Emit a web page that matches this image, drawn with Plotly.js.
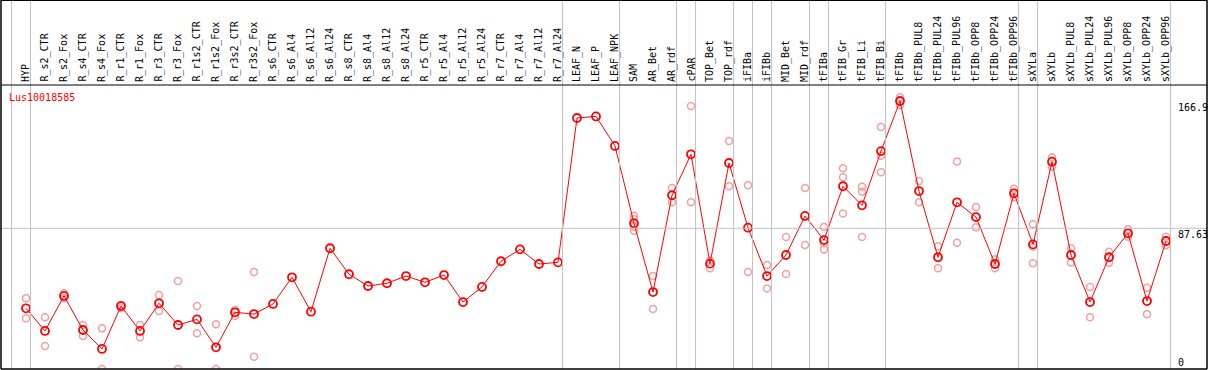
<!DOCTYPE html>
<html><head><meta charset="utf-8">
<script src="https://cdn.plot.ly/plotly-3.0.1.min.js"></script>
<style>html,body{margin:0;padding:0;background:#fff}#chart{width:1209px;height:370px}</style>
</head><body><div id="chart"></div>
<script>
const seriesName = 'Lus10018585';
const categories = ['HYP','R_s2_CTR','R_s2_Fox','R_s4_CTR','R_s4_Fox','R_r1_CTR','R_r1_Fox','R_r3_CTR','R_r3_Fox','R_r1s2_CTR','R_r1s2_Fox','R_r3s2_CTR','R_r3s2_Fox','R_s6_CTR','R_s6_Al4','R_s6_Al12','R_s6_Al24','R_s8_CTR','R_s8_Al4','R_s8_Al12','R_s8_Al24','R_r5_CTR','R_r5_Al4','R_r5_Al12','R_r5_Al24','R_r7_CTR','R_r7_Al4','R_r7_Al12','R_r7_Al24','LEAF_N','LEAF_P','LEAF_NPK','SAM','AR_Bet','AR_rdf','cPAR','TOP_Bet','TOP_rdf','iFIBa','iFIBb','MID_Bet','MID_rdf','tFIBa','tFIB_Gr','tFIB_Li','tFIB_Bi','tFIBb','tFIBb_PUL8','tFIBb_PUL24','tFIBb_PUL96','tFIBb_OPP8','tFIBb_OPP24','tFIBb_OPP96','sXYLa','sXYLb','sXYLb_PUL8','sXYLb_PUL24','sXYLb_PUL96','sXYLb_OPP8','sXYLb_OPP24','sXYLb_OPP96'];
const meanValues = [37.8,23.7,45.5,24.3,12.5,39.2,23.7,40.9,27.4,30.9,13.5,35.3,34.2,40.5,57.1,35.7,75.2,59.0,51.7,53.4,57.9,54.0,58.5,41.7,51.1,67.1,74.5,65.4,66.4,156.3,157.3,138.9,90.7,47.9,108.2,133.7,65.6,128.3,88.0,57.9,71.0,95.3,80.3,113.8,101.9,135.7,166.9,110.8,69.6,103.8,94.6,65.4,109.4,77.6,129.1,71.0,41.7,69.6,84.5,42.3,79.7];
const repCategories = ['HYP','HYP','R_s2_CTR','R_s2_CTR','R_s2_Fox','R_s2_Fox','R_s4_CTR','R_s4_CTR','R_s4_Fox','R_s4_Fox','R_r1_CTR','R_r1_CTR','R_r1_Fox','R_r1_Fox','R_r3_CTR','R_r3_CTR','R_r3_Fox','R_r3_Fox','R_r1s2_CTR','R_r1s2_CTR','R_r1s2_Fox','R_r1s2_Fox','R_r3s2_CTR','R_r3s2_CTR','R_r3s2_Fox','R_r3s2_Fox',
  'SAM','SAM','SAM','SAM','AR_Bet','AR_Bet','AR_rdf','AR_rdf','cPAR','cPAR','TOP_Bet','TOP_Bet','TOP_rdf','TOP_rdf','iFIBa','iFIBa','iFIBb','iFIBb','MID_Bet','MID_Bet','MID_rdf','MID_rdf','tFIBa','tFIBa','tFIBa','tFIB_Gr','tFIB_Gr','tFIB_Gr','tFIB_Li','tFIB_Li','tFIB_Li','tFIB_Bi','tFIB_Bi','tFIB_Bi','tFIBb','tFIBb',
  'tFIBb_PUL8','tFIBb_PUL8','tFIBb_PUL24','tFIBb_PUL24','tFIBb_PUL96','tFIBb_PUL96','tFIBb_OPP8','tFIBb_OPP8','tFIBb_OPP24','tFIBb_OPP24','tFIBb_OPP96','tFIBb_OPP96','sXYLa','sXYLa','sXYLa','sXYLb','sXYLb','sXYLb_PUL8','sXYLb_PUL8','sXYLb_PUL24','sXYLb_PUL24','sXYLb_PUL96','sXYLb_PUL96','sXYLb_OPP8','sXYLb_OPP8','sXYLb_OPP24','sXYLb_OPP24','sXYLb_OPP96','sXYLb_OPP96'];
const repValues = [44.0,31.6,32.2,14.3,47.1,44.0,27.4,20.5,25.3,0,39.9,38.0,27.4,19.7,46.1,36.1,54.8,0,39.2,22.2,27.8,0,36.7,33.0,60.4,7.7,
  95.3,93.2,88.6,86.1,57.9,37.4,112.7,103.8,163.8,103.8,67.4,62.7,142.0,113.8,114.4,60.4,64.8,50.2,82.2,59.2,112.7,77.2,88.4,78.3,74.5,125.0,119.4,96.9,113.5,110.4,82.2,150.7,132.8,122.5,169.2,164.4,
  117.1,103.8,76.4,62.7,129.3,78.6,100.9,88.2,68.3,62.7,112.3,106.9,90.1,76.2,65.8,131.8,126.0,75.2,66.4,51.1,32.2,73.0,66.2,87.0,82.4,50.6,34.1,82.4,77.0];
const groupSizes = [1,28,3,3,1,2,1,1,2,1,3,7,1,7];
const yTickValues = [166.9, 87.63, 0];

const W=1209, H=370, L=1, R=2, T=86, B=1;
const plotW = W-L-R, plotH = H-T-B;
const X0 = 26, STEP = 19, PXPERUNIT = 268/166.9;
const py = p => (H-B-p)/plotH;
const px = p => (p-L)/plotW;
const FONT = 'DejaVu Sans Mono, Liberation Mono, monospace';
const GRID = '#c0c0c0';

const xIdx = categories.map((c,i)=>i);
const repX = repCategories.map(c=>categories.indexOf(c));

const shapes = [];
// group separators
let b = -1;
const bounds = [b];
groupSizes.forEach(s=>{ b += s; bounds.push(b); });
bounds.forEach(k=>shapes.push({type:'line', xref:'x', yref:'paper', x0:k+0.24, x1:k+0.24, y0:0, y1:py(0), line:{color:GRID, width:1}}));
// horizontal mid grid
shapes.push({type:'line', xref:'paper', yref:'y', x0:0, x1:1, y0:yTickValues[1], y1:yTickValues[1], line:{color:GRID, width:1}});
// borders
shapes.push({type:'line', xref:'paper', yref:'paper', x0:0, x1:1, y0:py(0.5), y1:py(0.5), line:{color:'#000', width:1}});
shapes.push({type:'line', xref:'paper', yref:'paper', x0:0, x1:1, y0:py(85), y1:py(85), line:{color:'#000', width:1}});
shapes.push({type:'line', xref:'paper', yref:'paper', x0:0, x1:1, y0:py(369), y1:py(369), line:{color:'#000', width:1.5}});
shapes.push({type:'line', xref:'paper', yref:'paper', x0:0, x1:0, y0:0, y1:py(0), line:{color:'#000', width:1.5}});
shapes.push({type:'line', xref:'paper', yref:'paper', x0:1, x1:1, y0:0, y1:py(0), line:{color:'#000', width:1.5}});

const annotations = [];
categories.forEach((c,i)=>annotations.push({x:i, xref:'x', y:py(83), yref:'paper', xanchor:'center', yanchor:'bottom', text:c, textangle:-90, showarrow:false, borderpad:0, font:{family:FONT, size:10, color:'#000'}}));
annotations.push({x:px(8), xref:'paper', y:py(97), yref:'paper', xanchor:'left', yanchor:'middle', text:seriesName, showarrow:false, borderpad:0, font:{family:FONT, size:10, color:'#ff0000'}});
yTickValues.forEach((v,i)=>annotations.push({x:px(1177), xref:'paper', y:v, yref:'y', xanchor:'left', yanchor: v===0 ? 'bottom' : 'top', text:String(v), showarrow:false, borderpad:0, font:{family:FONT, size:10, color:'#000'}}));

const traces = [
  {x:repX, y:repValues, type:'scatter', mode:'markers', marker:{symbol:'circle-open', size:7, color:'#f0a0a0', line:{width:1.5}}, hoverinfo:'skip'},
  {x:xIdx, y:meanValues, type:'scatter', mode:'lines+markers', line:{color:'#ff0000', width:1}, marker:{symbol:'circle-open', size:8, color:'#ff0000', line:{width:1.8}}}
];

const layout = {
  width:W, height:H, margin:{l:L, r:R, t:T, b:B, pad:0},
  paper_bgcolor:'#fff', plot_bgcolor:'#fff', showlegend:false,
  xaxis:{range:[(L-X0)/STEP, (W-R-X0)/STEP], showgrid:false, zeroline:false, showticklabels:false, showline:false, ticks:''},
  yaxis:{range:[0, (H-B-T)/PXPERUNIT], showgrid:false, zeroline:false, showticklabels:false, showline:false, ticks:''},
  shapes:shapes, annotations:annotations
};
Plotly.newPlot('chart', traces, layout, {staticPlot:true, displayModeBar:false});
</script></body></html>
